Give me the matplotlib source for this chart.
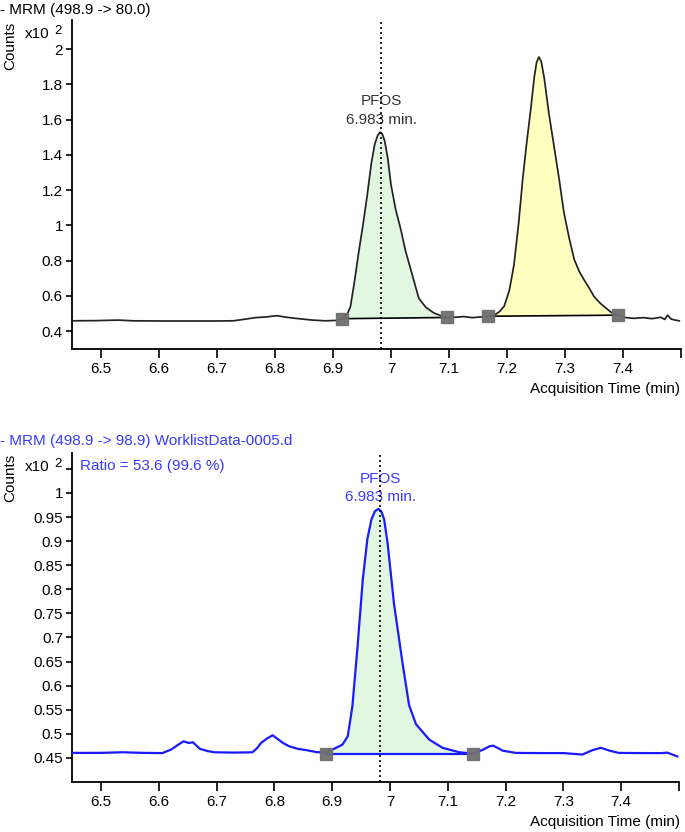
import numpy as np
import matplotlib
matplotlib.use("Agg")
import matplotlib.pyplot as plt

plt.rcParams['font.family'] = ['Liberation Sans', 'DejaVu Sans']

# ---------------- data ----------------
top_time = [6.45, 6.49, 6.53, 6.555, 6.60, 6.65, 6.70, 6.728, 6.75, 6.766, 6.785, 6.803,
            6.82, 6.841, 6.865, 6.887, 6.905, 6.917, 6.925, 6.930, 6.937, 6.944, 6.952,
            6.959, 6.966, 6.972, 6.977, 6.981, 6.985, 6.989, 6.994, 7.0, 7.008, 7.017,
            7.025, 7.034, 7.048, 7.06, 7.074, 7.087, 7.097, 7.11, 7.125, 7.14, 7.155,
            7.167, 7.178, 7.187, 7.195, 7.204, 7.212, 7.22, 7.227, 7.234, 7.241, 7.247,
            7.251, 7.255, 7.259, 7.264, 7.272, 7.281, 7.29, 7.298, 7.307, 7.316, 7.325,
            7.333, 7.342, 7.350, 7.36, 7.368, 7.38, 7.391, 7.405, 7.419, 7.435, 7.45,
            7.465, 7.472, 7.477, 7.483, 7.49, 7.497]
top_counts = [0.458, 0.459, 0.462, 0.458, 0.457, 0.457, 0.457, 0.458, 0.468, 0.476, 0.480,
              0.487, 0.478, 0.470, 0.462, 0.458, 0.460, 0.470, 0.500, 0.537, 0.680, 0.840,
              1.010, 1.170, 1.350, 1.460, 1.510, 1.528, 1.518, 1.480, 1.390, 1.230, 1.090,
              0.975, 0.855, 0.750, 0.585, 0.535, 0.502, 0.486, 0.477, 0.478, 0.482, 0.476,
              0.480, 0.484, 0.490, 0.510, 0.540, 0.630, 0.775, 1.010, 1.260, 1.470, 1.660,
              1.840, 1.925, 1.955, 1.930, 1.840, 1.640, 1.450, 1.260, 1.075, 0.930, 0.805,
              0.735, 0.690, 0.642, 0.596, 0.560, 0.537, 0.505, 0.490, 0.476, 0.472, 0.476,
              0.470, 0.478, 0.466, 0.490, 0.468, 0.462, 0.458]
top_marker_time = [6.916, 7.097, 7.167, 7.392]
top_marker_counts = [0.470, 0.477, 0.484, 0.490]

bottom_time = [6.45, 6.50, 6.538, 6.57, 6.606, 6.621, 6.632, 6.643, 6.652, 6.659, 6.665,
               6.671, 6.685, 6.697, 6.73, 6.762, 6.77, 6.777, 6.787, 6.797, 6.805, 6.815,
               6.826, 6.84, 6.856, 6.873, 6.889, 6.905, 6.918, 6.927, 6.935, 6.944, 6.953,
               6.961, 6.968, 6.974, 6.980, 6.985, 6.990, 6.996, 7.007, 7.022, 7.033, 7.045,
               7.068, 7.091, 7.12, 7.144, 7.161, 7.172, 7.178, 7.186, 7.195, 7.218, 7.26,
               7.30, 7.333, 7.350, 7.365, 7.38, 7.396, 7.44, 7.47, 7.48, 7.497]
bottom_counts = [0.4604, 0.4605, 0.4617, 0.4605, 0.460, 0.467, 0.476, 0.4845, 0.481, 0.4825,
                 0.476, 0.469, 0.464, 0.4617, 0.461, 0.4617, 0.470, 0.481, 0.490, 0.497,
                 0.490, 0.481, 0.474, 0.469, 0.466, 0.462, 0.4615, 0.470, 0.4777, 0.495,
                 0.557, 0.682, 0.820, 0.905, 0.945, 0.962, 0.967, 0.962, 0.945, 0.895,
                 0.770, 0.645, 0.560, 0.520, 0.488, 0.471, 0.4617, 0.459, 0.467, 0.474,
                 0.4755, 0.471, 0.465, 0.4604, 0.460, 0.460, 0.457, 0.466, 0.471, 0.465,
                 0.4604, 0.460, 0.460, 0.461, 0.453]
bottom_marker_time = [6.889, 7.144]
bottom_marker_counts = [0.459, 0.459]

peak_rt = 6.983
compound = "PFOS"
rt_label = "6.983 min."

x_ticks = [6.5, 6.6, 6.7, 6.8, 6.9, 7.0, 7.1, 7.2, 7.3, 7.4, 7.5]
x_tick_labels = ['6.5', '6.6', '6.7', '6.8', '6.9', '7', '7.1', '7.2', '7.3', '7.4', '']
top_y_ticks = [0.4, 0.6, 0.8, 1.0, 1.2, 1.4, 1.6, 1.8, 2.0]
top_y_labels = ['0.4', '0.6', '0.8', '1', '1.2', '1.4', '1.6', '1.8', '2']
bottom_y_ticks = [0.45, 0.5, 0.55, 0.6, 0.65, 0.7, 0.75, 0.8, 0.85, 0.9, 0.95, 1.0, 1.05]
bottom_y_labels = ['0.45', '0.5', '0.55', '0.6', '0.65', '0.7', '0.75', '0.8', '0.85',
                   '0.9', '0.95', '1', '']

top_title = "- MRM (498.9 -> 80.0)"
bottom_title = "- MRM (498.9 -> 98.9) WorklistData-0005.d"
ratio_text = "Ratio = 53.6 (99.6 %)"

# ---------------- style ----------------
W, H = 685, 832
BLUE = '#1a1aff'
TXT_BLUE = '#3a3aff'
GREEN = '#e2f7e2'
YELLOW = '#ffffc0'
MARK = '#6f6f6f'
FS = 11

fig = plt.figure(figsize=(W / 100, H / 100), dpi=100)


def ax_rect(left, right, top, bottom):
    return [left / W, 1 - bottom / H, (right - left) / W, (bottom - top) / H]


def fy(y):
    return 1 - y / H


ax1 = fig.add_axes(ax_rect(72, 681, 20, 349))
ax2 = fig.add_axes(ax_rect(72, 679, 453, 782))

for ax in (ax1, ax2):
    for s in ('top', 'right'):
        ax.spines[s].set_visible(False)
    for s in ('left', 'bottom'):
        ax.spines[s].set_linewidth(1.3)
    ax.set_xlim(6.45, 7.5)
    ax.set_xticks(x_ticks)
    ax.set_xticklabels(x_tick_labels)
    ax.tick_params(axis='x', length=6.5, width=1.2, pad=3, labelsize=FS)
    ax.tick_params(axis='y', length=4.5, width=1.2, pad=2, labelsize=FS)
    ax.axvline(peak_rt, color='black', linestyle=(0, (1.2, 1.8)), linewidth=1.2, zorder=5)

# ---------- top panel ----------
tt = np.array(top_time)
tc = np.array(top_counts)
ax1.set_ylim(0.298, 2.165)
ax1.set_yticks(top_y_ticks)
ax1.set_yticklabels(top_y_labels)

for (i0, i1), col in (((0, 1), GREEN), ((2, 3), YELLOW)):
    m0, m1 = top_marker_time[i0], top_marker_time[i1]
    base = np.interp(tt, [m0, m1], [top_marker_counts[i0], top_marker_counts[i1]])
    mask = (tt >= m0) & (tt <= m1)
    ax1.fill_between(tt, tc, base, where=mask & (tc >= base), interpolate=True,
                     color=col, linewidth=0, zorder=1)
    ax1.plot([m0, m1], [top_marker_counts[i0], top_marker_counts[i1]],
             color='black', linewidth=1.2, zorder=3)

ax1.plot(tt, tc, color='#222222', linewidth=1.25, zorder=4)
ax1.plot(top_marker_time, top_marker_counts, linestyle='none', marker='s',
         markersize=8, color=MARK, alpha=0.95, zorder=6)

ax1.text(peak_rt, 1.703, compound, ha='center', va='center', fontsize=FS, color='#333333')
ax1.text(peak_rt, 1.596, rt_label, ha='center', va='center', fontsize=FS, color='#333333')

# ---------- bottom panel ----------
bt = np.array(bottom_time)
bc = np.array(bottom_counts)
ax2.set_ylim(0.40, 1.083)
ax2.set_yticks(bottom_y_ticks)
ax2.set_yticklabels(bottom_y_labels)

m0, m1 = bottom_marker_time
base = np.interp(bt, [m0, m1], bottom_marker_counts)
mask = (bt >= m0) & (bt <= m1)
ax2.fill_between(bt, bc, base, where=mask & (bc >= base), interpolate=True,
                 color=GREEN, linewidth=0, zorder=1)
ax2.plot(bottom_marker_time, bottom_marker_counts, color=BLUE, linewidth=1.6, zorder=3)
ax2.plot(bt, bc, color=BLUE, linewidth=1.6, zorder=4)
ax2.plot(bottom_marker_time, bottom_marker_counts, linestyle='none', marker='s',
         markersize=8, color=MARK, alpha=0.95, zorder=6)

ax2.text(peak_rt, 1.030, compound, ha='center', va='center', fontsize=FS, color=TXT_BLUE)
ax2.text(peak_rt, 0.992, rt_label, ha='center', va='center', fontsize=FS, color=TXT_BLUE)

# ---------- figure texts ----------
fig.text(0 / W, fy(10), top_title, ha='left', va='center', fontsize=FS, color='black')
fig.text(0 / W, fy(441), bottom_title, ha='left', va='center', fontsize=FS, color=TXT_BLUE)
fig.text(80 / W, fy(466), ratio_text, ha='left', va='center', fontsize=FS, color=TXT_BLUE)

for yc, yx in ((46, 34), (478, 467)):
    fig.text(10 / W, fy(yc), "Counts", rotation=90, ha='center', va='center', fontsize=FS)
    fig.text(25 / W, fy(yx), "x10", ha='left', va='center', fontsize=FS)
    fig.text(54 / W, fy(yx - 3), "2", ha='left', va='center', fontsize=FS - 1.5)

fig.text(680 / W, fy(389), "Acquisition Time (min)", ha='right', va='center', fontsize=FS)
fig.text(680 / W, fy(822), "Acquisition Time (min)", ha='right', va='center', fontsize=FS)

fig.savefig("out.png", dpi=100)
